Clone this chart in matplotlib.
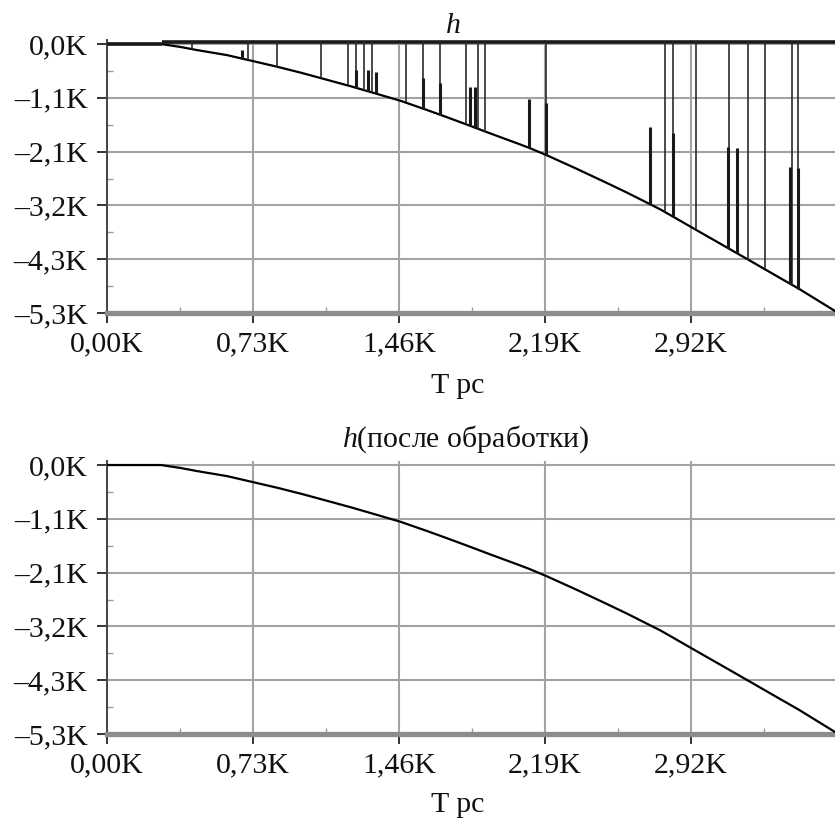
import matplotlib
matplotlib.use("Agg")
import matplotlib.pyplot as plt
import numpy as np
from matplotlib.ticker import FixedLocator, NullFormatter

plt.rcParams["font.family"] = ["Liberation Serif", "DejaVu Serif"]
plt.rcParams["mathtext.fontset"] = "custom"
plt.rcParams["mathtext.it"] = "Liberation Serif:italic"
plt.rcParams["mathtext.rm"] = "Liberation Serif"

# h(T), thousands (K)
t_curve = [0.0, 0.27, 0.37, 0.45, 0.60, 0.72, 0.85, 0.97, 1.10, 1.22, 1.35, 1.47,
           1.60, 1.67, 1.80, 1.92, 2.05, 2.11, 2.20, 2.35, 2.50, 2.60, 2.72, 2.77,
           2.95, 3.10, 3.21, 3.35, 3.46, 3.55, 3.64]
h_curve = [0.0, 0.0, -0.06, -0.12, -0.22, -0.33, -0.45, -0.57, -0.71, -0.84, -0.99, -1.13,
           -1.31, -1.41, -1.60, -1.78, -1.97, -2.06, -2.21, -2.48, -2.76, -2.95, -3.19, -3.29,
           -3.70, -4.04, -4.29, -4.61, -4.86, -5.08, -5.30]

# flat level at the top of the raw signal
top_level = 0.04
top_start = 0.275
t_end = 3.64

# spikes going from the top level down to the curve
spike_full_t = [0.425, 0.705, 0.85, 1.07, 1.205, 1.245, 1.285, 1.325, 1.495, 1.58, 1.665,
                1.795, 1.855, 1.89, 2.195, 2.79, 2.83, 2.945, 3.11, 3.205, 3.29, 3.425, 3.455]
spike_full_lo = [-0.10, -0.32, -0.45, -0.68, -0.82, -0.87, -0.92, -0.96, -1.16, -1.28, -1.40,
                 -1.59, -1.68, -1.74, -2.20, -3.33, -3.42, -3.69, -4.06, -4.28, -4.47, -4.79, -4.86]

# shorter spikes rising from the curve
spike_part_t = [0.675, 1.245, 1.305, 1.345, 1.58, 1.665, 1.815, 1.84, 2.11, 2.195,
                2.715, 2.83, 3.105, 3.15, 3.415, 3.455]
spike_part_hi = [-0.12, -0.52, -0.52, -0.56, -0.67, -0.77, -0.85, -0.85, -1.09, -1.17,
                 -1.65, -1.77, -2.04, -2.06, -2.44, -2.46]
spike_part_lo = [-0.29, -0.87, -0.94, -0.98, -1.28, -1.40, -1.62, -1.66, -2.06, -2.20,
                 -3.18, -3.42, -4.05, -4.15, -4.77, -4.86]

x_ticks = [0.0, 0.73, 1.46, 2.19, 2.92]
x_labels = ["0,00K", "0,73K", "1,46K", "2,19K", "2,92K"]
y_ticks = [0.0, -1.068, -2.136, -3.204, -4.272, -5.34]
y_labels = ["0,0K", "–1,1K", "–2,1K", "–3,2K", "–4,3K", "–5,3K"]

W, H = 835, 818
GRID = "#a3a3a3"


def style_axes(ax):
    ax.set_xlim(0, t_end)
    ax.set_ylim(-5.34, 0.08)
    ax.set_facecolor("white")
    ax.xaxis.set_major_locator(FixedLocator(x_ticks))
    ax.set_xticklabels(x_labels)
    ax.yaxis.set_major_locator(FixedLocator(y_ticks))
    ax.set_yticklabels(y_labels)
    ax.xaxis.set_minor_locator(FixedLocator(list(np.array(x_ticks) + 0.365)))
    ax.yaxis.set_minor_locator(FixedLocator(list(np.array(y_ticks[:-1]) - 0.534)))
    ax.xaxis.set_minor_formatter(NullFormatter())
    ax.yaxis.set_minor_formatter(NullFormatter())
    ax.grid(True, which="major", color=GRID, linewidth=1.5, zorder=0)
    ax.set_axisbelow(True)
    for side in ("top", "right"):
        ax.spines[side].set_visible(False)
    ax.spines["left"].set_color("#444444")
    ax.spines["left"].set_linewidth(1.4)
    ax.spines["bottom"].set_color("#8c8c8c")
    ax.spines["bottom"].set_linewidth(3.8)
    ax.tick_params(axis="both", which="major", direction="out", length=7,
                   width=1.4, color="#333333", labelsize=21.5, labelcolor="#111111")
    ax.tick_params(axis="x", which="major", pad=6)
    ax.tick_params(axis="y", which="major", pad=7)
    ax.tick_params(axis="both", which="minor", direction="in", length=4.5,
                   width=1.0, color="#999999")


def px_axes(top, bottom):
    return [107 / W, (H - bottom) / H, (W - 107) / W, (bottom - top) / H]


fig = plt.figure(figsize=(W / 100, H / 100), dpi=100)
fig.patch.set_facecolor("white")

ax1 = fig.add_axes(px_axes(40, 313))
style_axes(ax1)
ax1.plot(t_curve, h_curve, color="black", linewidth=1.6, zorder=3)
ax1.hlines(top_level, top_start, t_end, color="#1a1a1a", linewidth=2.6, zorder=3, clip_on=False)
ax1.hlines(0.0, 0.0, top_start, color="#1a1a1a", linewidth=2.6, zorder=3, clip_on=False)
ax1.vlines(spike_full_t, spike_full_lo, top_level, color="#2b2b2b", linewidth=1.2, zorder=3)
ax1.vlines(spike_part_t, spike_part_lo, spike_part_hi, color="#1a1a1a", linewidth=2.2, zorder=3)

ax2 = fig.add_axes(px_axes(461, 734))
style_axes(ax2)
ax2.plot(t_curve, h_curve, color="black", linewidth=1.6, zorder=3)

# titles and axis labels placed in pixel coordinates
fig.text(453 / W, 1 - 33 / H, "h", fontsize=21.5, fontstyle="italic",
         ha="center", va="baseline", color="#111111")
fig.text(466 / W, 1 - 447 / H, r"$h$(после обработки)", fontsize=21.5,
         ha="center", va="baseline", color="#111111")
fig.text(458 / W, 1 - 393 / H, "T pc", fontsize=21.5,
         ha="center", va="baseline", color="#111111")
fig.text(458 / W, 1 - 812 / H, "T pc", fontsize=21.5,
         ha="center", va="baseline", color="#111111")

fig.savefig("out.png", dpi=100, facecolor="white")
plt.close(fig)
